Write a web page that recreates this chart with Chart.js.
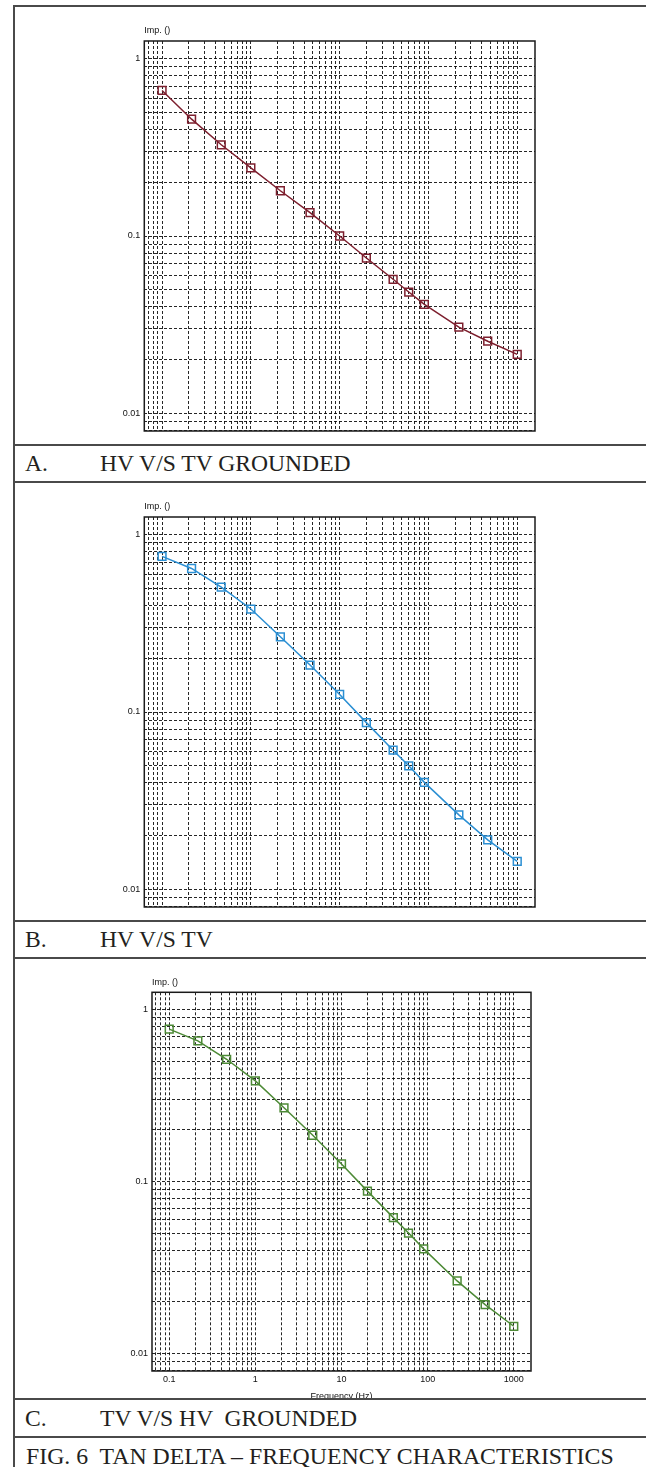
<!DOCTYPE html>
<html>
<head>
<meta charset="utf-8">
<script src="https://cdn.jsdelivr.net/npm/chart.js@4.4.1/dist/chart.umd.min.js"></script>
<style>
html,body{margin:0;padding:0;background:#fff;}
body{width:646px;height:1467px;position:relative;overflow:hidden;}
.hl{position:absolute;left:13px;width:640px;height:2px;background:#4a4a4a;}
.vl{position:absolute;left:13px;top:5px;width:2px;height:1470px;background:#4a4a4a;}
.clip{position:absolute;left:15px;width:631px;overflow:hidden;}
.clip canvas{position:absolute;left:-15px;}
.cap{position:absolute;left:15px;width:631px;font-family:'Liberation Serif','Times New Roman',serif;font-size:23.6px;color:#231f20;white-space:pre;}
.cap span{position:absolute;top:0;}
</style>
</head>
<body>
<div class="vl"></div>
<div class="hl" style="top:5px"></div>
<div class="clip" style="top:7px;height:437px"><canvas id="chartA" width="646" height="480" style="top:-7px"></canvas></div>
<div class="hl" style="top:444px"></div>
<div class="cap" style="top:446px;height:35px;line-height:35px"><span style="left:10px">A.</span><span style="left:85px">HV V/S TV GROUNDED</span></div>
<div class="hl" style="top:481px"></div>
<div class="clip" style="top:483px;height:437px"><canvas id="chartB" width="646" height="480" style="top:-7px"></canvas></div>
<div class="hl" style="top:920px"></div>
<div class="cap" style="top:922px;height:35px;line-height:35px"><span style="left:10px">B.</span><span style="left:85px">HV V/S TV</span></div>
<div class="hl" style="top:957px"></div>
<div class="clip" style="top:959px;height:439px"><canvas id="chartC" width="646" height="480" style="top:-7px"></canvas></div>
<div class="hl" style="top:1398px"></div>
<div class="cap" style="top:1400px;height:36px;line-height:36px"><span style="left:10px">C.</span><span style="left:85px">TV V/S HV  GROUNDED</span></div>
<div class="hl" style="top:1436px"></div>
<div class="cap" style="top:1438px;height:36px;line-height:36px;font-size:23.8px"><span style="left:11px">FIG. 6  TAN DELTA – FREQUENCY CHARACTERISTICS</span></div>

<script>
// ---- data ----
const frequencies = [0.1, 0.215, 0.464, 1, 2.15, 4.64, 10, 20, 40, 60, 90, 220, 465, 1000];
const impA = [0.662, 0.456, 0.327, 0.242, 0.180, 0.1355, 0.100, 0.0751, 0.0570, 0.0483, 0.0412, 0.0306, 0.0255, 0.0215];
const impB = [0.755, 0.645, 0.506, 0.381, 0.2655, 0.184, 0.1256, 0.0871, 0.0609, 0.0497, 0.0401, 0.0263, 0.0190, 0.01435];
const impC = [0.769, 0.658, 0.514, 0.385, 0.2685, 0.186, 0.1268, 0.0881, 0.0618, 0.0503, 0.0407, 0.0265, 0.0193, 0.01445];
const xTickValues = [0.1, 1, 10, 100, 1000];
const xTickLabels = ['0.1', '1', '10', '100', '1000'];
const yTickValues = [1, 0.1, 0.01];
const yTickLabels = ['1', '0.1', '0.01'];
const yAxisTitle = 'Imp. ()';
const xAxisTitle = 'Frequency (Hz)';
const gridDigits = [1, 2, 3, 4, 5, 6, 7, 8, 9];
const gridExponents = [-3, -2, -1, 0, 1, 2, 3];

const X_MIN = Math.pow(10, -1.2), X_MAX = Math.pow(10, 3.2);
const Y_MIN = Math.pow(10, -2.1), Y_MAX = Math.pow(10, 0.1);

function gridValues(min, max) {
  const out = [];
  gridExponents.forEach(e => gridDigits.forEach(d => {
    const v = parseFloat((d * Math.pow(10, e)).toPrecision(6));
    if (v >= min && v <= max) out.push(v);
  }));
  return out;
}
function labelFor(v, vals, labels) {
  for (let i = 0; i < vals.length; i++) {
    if (Math.abs(v - vals[i]) < vals[i] * 1e-6) return labels[i];
  }
  return '';
}

const FONT_FAMILY = '"Liberation Sans Narrow", "Liberation Sans", Arial, sans-serif';

const framePlugin = {
  id: 'frame',
  beforeDatasetsDraw(chart) {
    const {ctx, chartArea: a} = chart;
    ctx.save();
    ctx.strokeStyle = '#1a1a1a';
    ctx.lineWidth = 1.5;
    ctx.strokeRect(a.left, a.top, a.right - a.left, a.bottom - a.top);
    ctx.restore();
  },
  afterDraw(chart) {
    const {ctx, chartArea: a} = chart;
    ctx.save();
    ctx.font = '9px ' + FONT_FAMILY;
    ctx.fillStyle = '#111';
    ctx.textBaseline = 'middle';
    ctx.textAlign = 'left';
    ctx.fillText(yAxisTitle, a.left, a.top - 10);
    ctx.restore();
  }
};

const tickFont = {family: FONT_FAMILY, size: 9};

function makeChart(id, values, color, pad, showX) {
  const xGrid = gridValues(X_MIN, X_MAX);
  const yGrid = gridValues(Y_MIN, Y_MAX);
  return new Chart(document.getElementById(id), {
    type: 'line',
    data: {
      datasets: [{
        data: frequencies.map((f, i) => ({x: f, y: values[i]})),
        borderColor: color,
        borderWidth: 1.5,
        pointStyle: 'rect',
        pointRadius: 5.5,
        pointBorderWidth: 1.5,
        pointBorderColor: color,
        pointBackgroundColor: 'rgba(255,255,255,0)',
        tension: 0,
        fill: false
      }]
    },
    options: {
      responsive: false,
      animation: false,
      devicePixelRatio: 1,
      layout: {padding: pad},
      plugins: {legend: {display: false}, tooltip: {enabled: false}, title: {display: false}},
      scales: {
        x: {
          type: 'logarithmic', min: X_MIN, max: X_MAX,
          afterBuildTicks: s => { s.ticks = xGrid.map(v => ({value: v})); },
          afterFit: s => { s.height = 31; },
          grid: {color: 'rgba(0,0,0,0.85)', lineWidth: 1, drawTicks: false},
          border: {display: false, dash: [3, 2]},
          ticks: {display: showX, autoSkip: false, maxRotation: 0, padding: 3, font: tickFont, color: '#111',
                  callback: v => labelFor(v, xTickValues, xTickLabels)},
          title: {display: showX, text: xAxisTitle, font: tickFont, color: '#111', padding: {top: 0, bottom: 0}}
        },
        y: {
          type: 'logarithmic', min: Y_MIN, max: Y_MAX,
          afterBuildTicks: s => { s.ticks = yGrid.map(v => ({value: v})); },
          afterFit: s => { s.width = 40; },
          grid: {color: 'rgba(0,0,0,0.85)', lineWidth: 1, drawTicks: false},
          border: {display: false, dash: [3, 2]},
          ticks: {autoSkip: false, padding: 4, font: tickFont, color: '#111',
                  callback: v => labelFor(v, yTickValues, yTickLabels)}
        }
      }
    },
    plugins: [framePlugin]
  });
}

makeChart('chartA', impA, '#7d1f2e', {left: 104.3, right: 111, top: 41, bottom: 18}, false);
makeChart('chartB', impB, '#2b8fd3', {left: 104.3, right: 111, top: 41, bottom: 18}, false);
makeChart('chartC', impC, '#4d8a36', {left: 112, right: 115, top: 40.3, bottom: 30}, true);
</script>
</body>
</html>
